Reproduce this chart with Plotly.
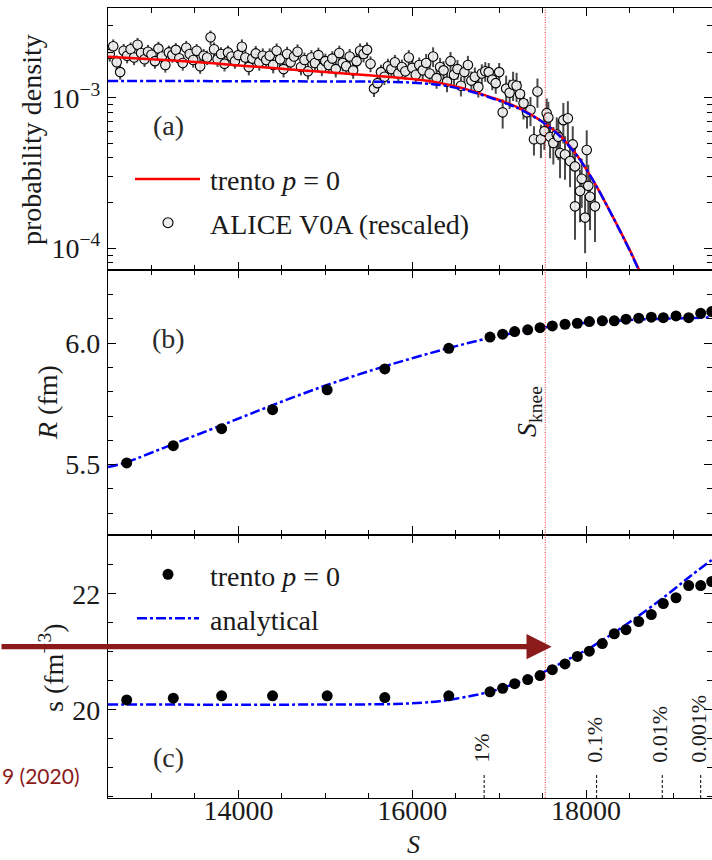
import plotly.graph_objects as go

# ---------------- data ----------------
# panel (a): ALICE V0A (rescaled), probability density in units of 1e-3
ALICE_S = [
    12520, 12560, 12600, 12640, 12680, 12720, 12760, 12800, 12840, 12880,
    12920, 12960, 13000, 13040, 13080, 13120, 13160, 13200, 13240, 13280,
    13320, 13360, 13400, 13440, 13480, 13520, 13560, 13600, 13640, 13680,
    13720, 13760, 13800, 13840, 13880, 13920, 13960, 14000, 14040, 14080,
    14120, 14160, 14200, 14240, 14280, 14320,
    14360, 14400, 14440, 14480, 14520, 14560, 14600, 14640, 14680, 14720,
    14760, 14800, 14840, 14880, 14920, 14960, 15000, 15040, 15080, 15120,
    15160, 15200, 15240, 15280, 15320, 15360, 15400, 15440, 15480, 15520,
    15560, 15600, 15640, 15680, 15720, 15760, 15800, 15840, 15880, 15920,
    15960, 16000, 16040, 16080, 16120,
    16160, 16200, 16240, 16280, 16320, 16360, 16400, 16440, 16480, 16520,
    16560, 16600, 16640, 16680, 16720, 16760, 16800, 16840, 16880, 16920,
    16960, 17000, 17040, 17080, 17120, 17160, 17200, 17240, 17280, 17320,
    17360, 17400, 17440, 17480,
]
ALICE_V = [
    1.95, 2.20, 1.72, 1.48, 2.05, 1.90, 2.10, 1.85, 2.25, 1.98,
    1.80, 2.02, 1.93, 1.75, 2.12, 1.88, 1.65, 2.00, 1.92, 2.08,
    1.83, 1.70, 2.15, 1.95, 1.78, 2.05, 1.62, 1.90, 1.85, 2.52,
    2.10, 1.80, 1.95, 1.68, 2.00, 1.88, 1.75, 1.92, 2.18, 1.85,
    1.60, 1.82, 1.97, 1.72, 1.90, 1.78,
    1.90, 1.65, 2.05, 1.80, 1.55, 1.95, 1.72, 1.88, 2.02, 1.60,
    1.78, 1.50, 1.85, 1.70, 1.92, 1.58, 1.75, 1.65, 1.82, 1.55,
    1.98, 1.70, 1.62, 1.88, 1.52, 1.75, 2.05, 1.95, 2.08, 1.68,
    1.15, 1.25, 1.48, 1.38, 1.62, 1.55, 1.72, 1.45, 1.60, 1.50,
    1.85, 1.58, 1.42, 1.65, 1.52,
    1.70, 1.45, 1.88, 1.35, 1.60, 1.52, 1.28, 1.75, 1.42, 1.55,
    1.20, 1.48, 1.65, 1.30, 1.38, 1.18, 1.45, 1.50, 1.48, 1.32,
    1.25, 1.48, 0.80, 1.15, 1.08, 1.22, 1.20, 1.06, 0.92, 0.80,
    0.83, 0.53, 1.10, 0.53,
]
# relative error read per S range (upper edge of each range)
ERR_EDGES = [14000, 16100, 17000, 17450, 99999]
ERR_REL = [0.11, 0.12, 0.15, 0.22, 0.25]

# points beyond the knee (sparser, larger errors)
KNEE_S = [17520, 17546, 17565, 17585, 17623, 17662, 17680, 17700, 17738, 17757, 17790,
          17815, 17846, 17872, 17872, 17930, 17949, 17988, 18007, 18025, 18045, 18102]
KNEE_V = [0.60, 0.79, 0.74, 0.55, 0.50, 0.57, 0.55, 0.43, 0.71, 0.42, 0.73,
          0.38, 0.49, 0.35, 0.19, 0.24, 0.29, 0.16, 0.45, 0.26, 0.22, 0.19]
KNEE_REL = [0.25, 0.25, 0.27, 0.28, 0.28, 0.30, 0.30, 0.32, 0.30, 0.32, 0.30,
            0.33, 0.32, 0.35, 0.40, 0.38, 0.36, 0.42, 0.35, 0.38, 0.40, 0.42]

# panel (a) curves, units of 1e-3
TRENTO_A_S = [12500, 13000, 13500, 14000, 14500, 15000, 15500, 16000, 16300, 16600,
              16900, 17200, 17500, 17700, 17900, 18100, 18300, 18500, 18650]
TRENTO_A_V = [1.87, 1.80, 1.73, 1.64, 1.56, 1.48, 1.41, 1.33, 1.26, 1.15,
              1.01, 0.87, 0.69, 0.56, 0.41, 0.27, 0.165, 0.098, 0.064]
ANALYT_A_S = [12500, 13500, 14500, 15500, 16000, 16300, 16600, 16900, 17200, 17500,
              17700, 17900, 18100, 18300, 18500, 18650]
ANALYT_A_V = [1.29, 1.29, 1.285, 1.28, 1.26, 1.22, 1.13, 1.00, 0.86, 0.69,
              0.555, 0.41, 0.27, 0.165, 0.097, 0.063]

# panels (b) and (c): trento p=0 points
TRENTO_S = [12715, 13251, 13807, 14393, 15021, 15684, 16420, 16894, 17040, 17178,
            17328, 17470, 17611, 17757, 17899, 18037, 18186, 18324, 18459, 18605,
            18750, 18888, 19034, 19180, 19318, 19445]
TRENTO_R = [5.507, 5.578, 5.648, 5.726, 5.808, 5.894, 5.979, 6.025, 6.037, 6.048,
            6.055, 6.064, 6.071, 6.078, 6.082, 6.089, 6.092, 6.092, 6.099, 6.103,
            6.107, 6.105, 6.112, 6.105, 6.123, 6.130]
TRENTO_ENT = [20.17, 20.20, 20.24, 20.24, 20.24, 20.21, 20.24, 20.31, 20.37, 20.45,
              20.52, 20.59, 20.69, 20.79, 20.92, 21.01, 21.14, 21.31, 21.38, 21.52,
              21.64, 21.83, 21.93, 22.14, 22.14, 22.21]

ANALYT_B_S = [12500, 12715, 13251, 13807, 14393, 15021, 15684, 16420, 16894, 17470,
              18037, 18605, 19445]
ANALYT_B_R = [5.49, 5.51, 5.585, 5.662, 5.745, 5.828, 5.905, 5.98, 6.022, 6.062,
              6.085, 6.097, 6.106]
ANALYT_C_S = [12500, 15000, 15800, 16200, 16500, 16894, 17200, 17470, 17757, 18037,
              18324, 18605, 18888, 19180, 19445]
ANALYT_C_ENT = [20.09, 20.09, 20.10, 20.13, 20.19, 20.31, 20.46, 20.62, 20.84, 21.06,
                21.33, 21.62, 21.93, 22.28, 22.58]

S_KNEE = 17530
CENT_S = [16827, 18121, 18876, 19318]
CENT_LABELS = ["1%", "0.1%", "0.01%", "0.001%"]

# ---------------- derived ----------------
def rel_err(s):
    for edge, r in zip(ERR_EDGES, ERR_REL):
        if s <= edge:
            return r
    return ERR_REL[-1]

all_s = ALICE_S + KNEE_S
all_v = [v * 1e-3 for v in ALICE_V + KNEE_V]
all_e = [v * 1e-3 * rel_err(s) for s, v in zip(ALICE_S, ALICE_V)] + \
        [v * 1e-3 * r for v, r in zip(KNEE_V, KNEE_REL)]

# ---------------- layout geometry ----------------
W, H = 712, 860
ML, MR, MT, MB = 108, 0, 8, 62
PW, PH = W - ML - MR, H - MT - MB


def px_x(px):
    return (px - ML) / PW


def px_y(py):
    return (H - MB - py) / PH


FONT = "Liberation Serif"
TXT = "#1a1a1a"
RED = "#ff0000"
BLUE = "#0000ff"
DASHDOT = "10px,3px,3px,3px"
DARKRED = "#8b1a1a"

fig = go.Figure()

# panel (a)
fig.add_trace(go.Scatter(
    x=all_s, y=all_v, mode="markers", xaxis="x", yaxis="y", showlegend=False,
    error_y=dict(type="data", array=all_e, visible=True, color="#4a4a4a", thickness=2, width=0),
    marker=dict(symbol="circle", size=9.5, color="rgba(236,236,236,0.92)",
                line=dict(color="black", width=1.1)),
))
fig.add_trace(go.Scatter(
    x=TRENTO_A_S, y=[v * 1e-3 for v in TRENTO_A_V], mode="lines", xaxis="x", yaxis="y",
    showlegend=False, line=dict(color=RED, width=2.5, shape="spline", smoothing=0.8),
))
fig.add_trace(go.Scatter(
    x=ANALYT_A_S, y=[v * 1e-3 for v in ANALYT_A_V], mode="lines", xaxis="x", yaxis="y",
    showlegend=False, line=dict(color=BLUE, width=2.5, dash=DASHDOT, shape="spline", smoothing=0.8),
))
# panel (b)
fig.add_trace(go.Scatter(
    x=ANALYT_B_S, y=ANALYT_B_R, mode="lines", xaxis="x2", yaxis="y2", showlegend=False,
    line=dict(color=BLUE, width=2.5, dash=DASHDOT, shape="spline", smoothing=0.8),
))
fig.add_trace(go.Scatter(
    x=TRENTO_S, y=TRENTO_R, mode="markers", xaxis="x2", yaxis="y2", showlegend=False,
    marker=dict(color="black", size=11),
))
# panel (c)
fig.add_trace(go.Scatter(
    x=ANALYT_C_S, y=ANALYT_C_ENT, mode="lines", xaxis="x3", yaxis="y3", showlegend=False,
    line=dict(color=BLUE, width=2.5, dash=DASHDOT, shape="spline", smoothing=0.8),
))
fig.add_trace(go.Scatter(
    x=TRENTO_S, y=TRENTO_ENT, mode="markers", xaxis="x3", yaxis="y3", showlegend=False,
    marker=dict(color="black", size=11),
))

tickfont = dict(family=FONT, size=28, color=TXT)
common = dict(
    showline=True, linecolor="black", linewidth=1.3, mirror="ticks",
    ticks="inside", ticklen=8, tickwidth=1.3, tickcolor="black",
    showgrid=False, zeroline=False, tickfont=tickfont,
)
xcommon = dict(common, range=[12500, 19448], tick0=14000, dtick=2000, tickformat="d",
               minor=dict(ticks="inside", ticklen=4.5, tickwidth=1, tickcolor="black",
                          tick0=12500, dtick=500))

dom_c = [0, px_y(534.5)]
dom_b = [px_y(534.5), px_y(270)]
dom_a = [px_y(270), 1]

fig.update_layout(
    width=W, height=H, margin=dict(l=ML, r=MR, t=MT, b=MB),
    plot_bgcolor="white", paper_bgcolor="white", showlegend=False,
    xaxis=dict(xcommon, anchor="y", domain=[0, 1], showticklabels=False),
    xaxis2=dict(xcommon, anchor="y2", domain=[0, 1], matches="x", showticklabels=False),
    xaxis3=dict(xcommon, anchor="y3", domain=[0, 1], matches="x", showticklabels=True,
                ticklabelstandoff=-13),
    yaxis=dict(common, anchor="x", domain=dom_a, type="log", range=[-4.144, -2.404],
               tickmode="array", tickvals=[1e-4, 1e-3],
               ticktext=["10<sup>\u22124</sup>", "10<sup>\u22123</sup>"],
               ticklabelstandoff=1,
               minor=dict(ticks="inside", ticklen=4.5, tickwidth=1, tickcolor="black",
                          tickmode="array",
                          tickvals=[8e-5, 9e-5, 2e-4, 3e-4, 4e-4, 5e-4, 6e-4, 7e-4, 8e-4, 9e-4,
                                    2e-3, 3e-3])),
    yaxis2=dict(common, anchor="x2", domain=dom_b, range=[5.2123, 6.3013],
                tickmode="array", tickvals=[5.5, 6.0], ticktext=["5.5", "6.0"],
                ticklabelstandoff=1,
                minor=dict(ticks="inside", ticklen=4.5, tickwidth=1, tickcolor="black",
                           tick0=5.0, dtick=0.1)),
    yaxis3=dict(common, anchor="x3", domain=dom_c, range=[18.48, 23.02],
                tickmode="array", tickvals=[20, 22], ticktext=["20", "22"],
                ticklabelstandoff=1,
                minor=dict(ticks="inside", ticklen=4.5, tickwidth=1, tickcolor="black",
                           tick0=18.0, dtick=0.5)),
)

shapes = []
# S_knee vertical dotted line across all panels
shapes.append(dict(type="line", xref="x", yref="paper", x0=S_KNEE, x1=S_KNEE, y0=0, y1=1,
                   line=dict(color="#ff3030", width=1, dash="1px,1.5px"), layer="above"))
# centrality markers in panel (c)
for s in CENT_S:
    shapes.append(dict(type="line", xref="x3", yref="y3", x0=s, x1=s, y0=18.48, y1=18.9,
                       line=dict(color="black", width=1, dash="3px,2px")))
# legend swatches
shapes.append(dict(type="line", xref="paper", yref="paper", x0=px_x(135), x1=px_x(200),
                   y0=px_y(179), y1=px_y(179), line=dict(color=RED, width=2.5)))
shapes.append(dict(type="circle", xref="paper", yref="paper", x0=px_x(163), x1=px_x(173),
                   y0=px_y(227.7), y1=px_y(217.7), fillcolor="rgba(236,236,236,0.92)",
                   line=dict(color="black", width=1.1)))
shapes.append(dict(type="circle", xref="paper", yref="paper", x0=px_x(162.5), x1=px_x(173.5),
                   y0=px_y(579.8), y1=px_y(568.8), fillcolor="black",
                   line=dict(color="black", width=0)))
shapes.append(dict(type="line", xref="paper", yref="paper", x0=px_x(137), x1=px_x(199),
                   y0=px_y(618.3), y1=px_y(618.3), line=dict(color=BLUE, width=2.5, dash=DASHDOT)))
fig.update_layout(shapes=shapes)

ann = []


def text(px, py, t, size=28, angle=0, xanchor="center", color=TXT, family=FONT,
         yanchor="middle", **kw):
    ann.append(dict(xref="paper", yref="paper", x=px_x(px), y=px_y(py), text=t,
                    showarrow=False, textangle=angle, xanchor=xanchor, yanchor=yanchor,
                    font=dict(family=family, size=size, color=color), **kw))


# axis titles
text(31, 139, "probability density", angle=-90)
text(47, 403, "<i>R</i> (fm)", angle=-90)
text(51, 668, "s (fm<sup>\u22123</sup>)", angle=-90)
text(413, 859.5, "<i>S</i>", size=26, yanchor="bottom", borderpad=0)
# panel labels
text(168, 125, "(a)", color="#2a2a2a")
text(168, 338, "(b)", color="#2a2a2a")
text(168, 757, "(c)", color="#2a2a2a")
# legends
text(208, 181, "trento <i>p</i> = 0", xanchor="left")
text(208, 224, "ALICE V0A (rescaled)", xanchor="left")
text(208, 576, "trento <i>p</i> = 0", xanchor="left")
text(208, 620, "analytical", xanchor="left")
# S_knee label
text(528, 412, "<i>S</i><sub>knee</sub>", angle=-90)
# centrality labels
for s, lab in zip(CENT_S, CENT_LABELS):
    ann.append(dict(xref="x3", yref="paper", x=s, y=px_y(765), text=lab, showarrow=False,
                    textangle=-90, xanchor="center", yanchor="bottom", xshift=-3,
                    font=dict(family=FONT, size=22, color=TXT)))
# reference note
text(0, 775, "9 (2020)", size=21, xanchor="left", color=DARKRED, family="Lato")
# arrow (drawn last so it covers the axis title)
ann.append(dict(xref="paper", yref="paper", x=px_x(551.7), y=px_y(646.7), ax=-551.7, ay=0,
                axref="pixel", ayref="pixel", text="", showarrow=True, arrowhead=2,
                arrowwidth=5.3, arrowsize=0.95, arrowcolor=DARKRED, standoff=0))
fig.update_layout(annotations=ann)

fig.write_html("out.html")
